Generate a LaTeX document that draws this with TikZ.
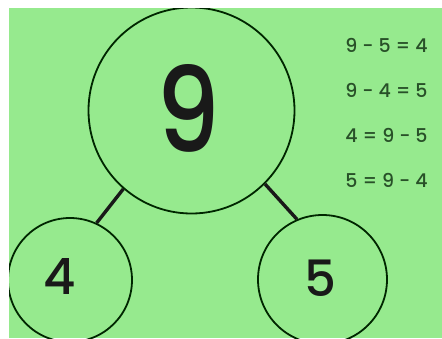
\documentclass[tikz,border=0pt]{standalone}
\usepackage{fontspec}
\setmainfont{Poppins}
\newfontfamily\popmed{Poppins Medium}
\definecolor{bggreen}{RGB}{150,234,142}
\definecolor{eqcol}{RGB}{40,80,40}
\tikzset{
  part/.style={circle, draw=black!85!green, line width=1.8pt, inner sep=0pt, text=black!90},
  link/.style={line width=3.4pt, black!90},
  digit/.style={text=black!90, inner sep=0pt},
  eq/.style={anchor=center, text=eqcol, font=\popmed\fontsize{19}{19}\selectfont, inner sep=0pt}
}
\begin{document}
\begin{tikzpicture}[x=1pt,y=-1pt]
\useasboundingbox (0,0) rectangle (442,338);
\fill[white] (0,0) rectangle (442,338);
\fill[bggreen] (9,8) rectangle (442,338);
\begin{scope}
\clip (9,8) rectangle (442,338);
\node[part, minimum size=206pt] (whole) at (191.5,110.5) {};
\node[part, minimum size=124pt] (left) at (70,280) {};
\node[part, minimum size=129pt] (right) at (322.5,279.5) {};
\node[digit, font=\popmed\fontsize{118}{118}\selectfont, xscale=0.85, transform shape] (nine) at (188,108) {9};
\node[digit, font=\popmed\fontsize{50}{50}\selectfont] (four) at (60,276) {4};
\node[digit, font=\popmed\fontsize{50}{50}\selectfont] (five) at (320,278) {5};
\draw[link] (whole.229) -- (left.65);
\draw[link] (whole.315.6) -- (right.113);
\end{scope}
\node[eq] (e1) at (386.5,45) {9 - 5 = 4};
\node[eq] (e2) at (386.5,90) {9 - 4 = 5};
\node[eq] (e3) at (386.5,135) {4 = 9 - 5};
\node[eq] (e4) at (386.5,180) {5 = 9 - 4};
\end{tikzpicture}
\end{document}
